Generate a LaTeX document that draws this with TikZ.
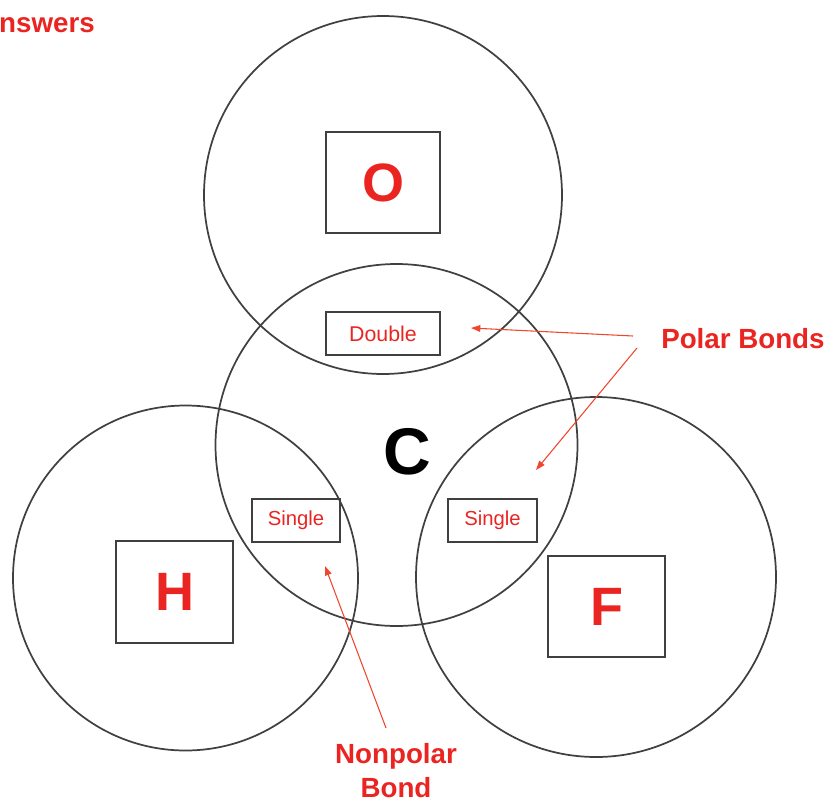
\documentclass[tikz,border=0pt]{standalone}
\usepackage{fontspec}
\setmainfont{Liberation Sans}
\usetikzlibrary{arrows.meta}
\definecolor{ink}{RGB}{64,64,64}
\definecolor{bondred}{RGB}{234,36,33}
\definecolor{arrowred}{RGB}{240,70,45}
\tikzset{
  ring/.style={draw=ink, line width=1.3pt},
  elembox/.style={draw=ink, line width=1.4pt, inner sep=0pt,
    text=bondred, font=\fontsize{40.5}{40.5}\selectfont\bfseries},
  bondbox/.style={draw=ink, line width=1.3pt, inner sep=0pt,
    text=bondred, minimum height=32.25pt},
  redlabel/.style={text=bondred, inner sep=0pt,
    font=\fontsize{20.8}{25.5}\selectfont\bfseries},
  pointer/.style={draw=arrowred, line width=0.8pt,
    -{Triangle[length=7pt,width=5pt]}, shorten >=0pt}
}
\begin{document}
\begin{tikzpicture}[x=0.75pt,y=-0.75pt]
\useasboundingbox (0,0) rectangle (827,799);

% atom circles
\draw[ring] (383,195) circle[radius=179];
\draw[ring] (396.5,445) circle[radius=181];
\draw[ring] (185.5,578) circle[radius=172.5];
\draw[ring] (596,577) circle[radius=180];

% element boxes
\node[elembox, minimum width=85.5pt, minimum height=75.75pt] (boxO) at (383,182.5) {O};
\node[elembox, minimum width=87.75pt, minimum height=76.5pt] (boxH) at (174.5,592) {H};
\node[elembox, minimum width=87.75pt, minimum height=75.75pt] (boxF) at (606.5,606.5) {F};

% carbon in the centre
\node[inner sep=0pt, font=\fontsize{49.5}{49.5}\selectfont\bfseries] (carbon) at (407,452) {C};

% bond boxes
\node[bondbox, minimum width=85.5pt, font=\fontsize{16}{16}\selectfont] (dbl) at (383,333.5) {Double};
\node[bondbox, minimum width=66pt, font=\fontsize{15.2}{15.2}\selectfont] (singleH) at (296,520.5) {Single};
\node[bondbox, minimum width=66.75pt, font=\fontsize{15.2}{15.2}\selectfont] (singleF) at (492.5,520.5) {Single};

% labels
\node[redlabel, anchor=base east] (title) at (95,33) {Answers};
\node[redlabel, anchor=base west] (polar) at (661,348) {Polar Bonds};
\node[redlabel, anchor=north, align=center] (nonpolar) at (396,743) {Nonpolar\\Bond};

% pointers
\coordinate (p1) at (633,336);
\coordinate (p2) at (637,348);
\coordinate (n1) at (386,728);
\coordinate (t1) at (471,328);
\coordinate (t2) at (536,470);
\coordinate (t3) at (325,566);
\draw[pointer] (p1) -- (t1);
\draw[pointer] (p2) -- (t2);
\draw[pointer] (n1) -- (t3);
\end{tikzpicture}
\end{document}
